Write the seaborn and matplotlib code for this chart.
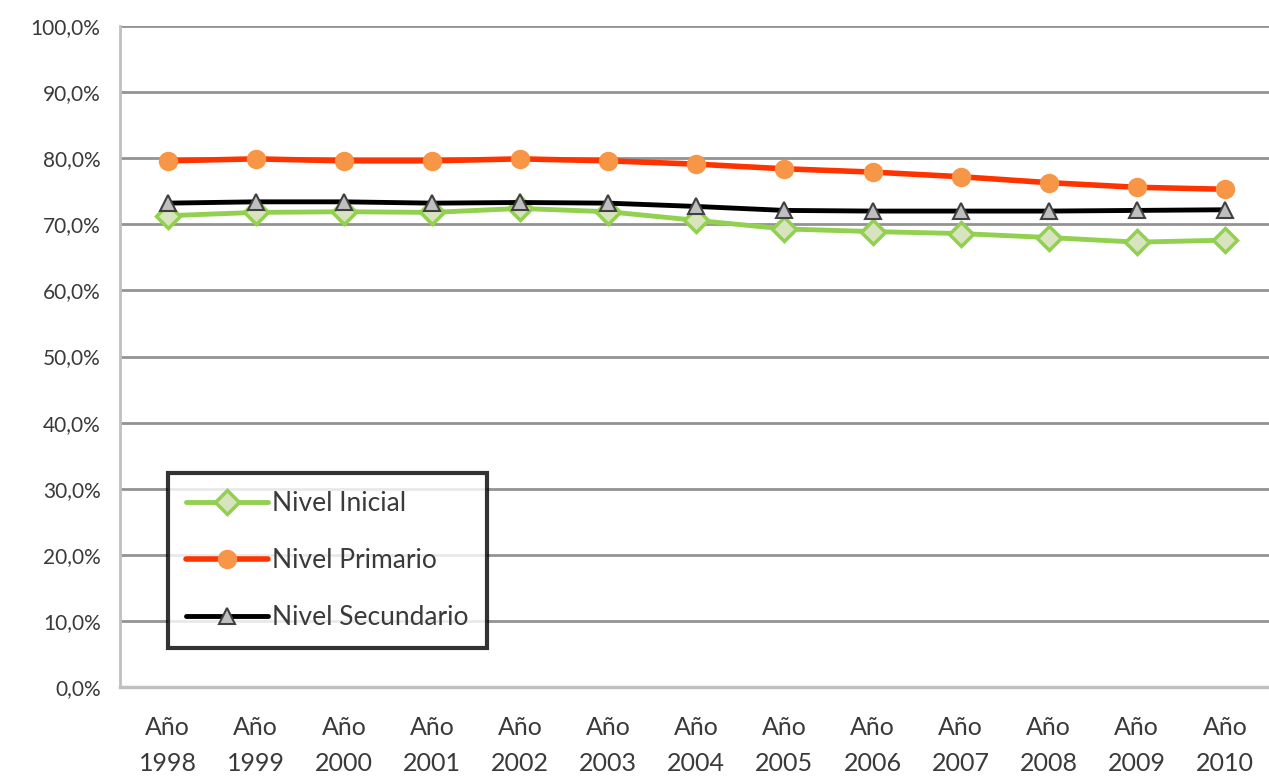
import matplotlib
matplotlib.use('Agg')
import matplotlib.pyplot as plt
import seaborn as sns
import numpy as np

years = [1998, 1999, 2000, 2001, 2002, 2003, 2004, 2005, 2006, 2007, 2008, 2009, 2010]
x_labels = [f"Año\n{y}" for y in years]

inicial = [71.3, 71.8, 71.9, 71.8, 72.4, 71.9, 70.6, 69.3, 68.9, 68.6, 68.0, 67.3, 67.6]
primario = [79.6, 79.9, 79.6, 79.6, 79.9, 79.6, 79.1, 78.4, 77.9, 77.2, 76.3, 75.6, 75.3]
secundario = [73.2, 73.4, 73.4, 73.2, 73.3, 73.2, 72.7, 72.1, 72.0, 72.0, 72.0, 72.1, 72.2]

sns.set_style("white")
plt.rcParams['font.family'] = ['Lato', 'DejaVu Sans']

fig = plt.figure(figsize=(12.69, 7.76), dpi=100)
ax = fig.add_axes([120 / 1269, 1 - 687 / 776, 1149 / 1269, 661 / 776])

xs = np.arange(len(years))

# gridlines first so the lines sit on top
ax.set_ylim(0, 100)
ax.set_yticks(np.arange(0, 101, 10))
ax.yaxis.grid(True, color="#939393", linewidth=2)
ax.set_axisbelow(True)

sns.lineplot(x=xs, y=inicial, ax=ax, color="#92D050", linewidth=3.5,
             marker="D", markersize=12, markerfacecolor="#D7E4BD",
             markeredgecolor="#92D050", markeredgewidth=2.5, label="Nivel Inicial")
sns.lineplot(x=xs, y=primario, ax=ax, color="#FF3300", linewidth=4,
             marker="o", markersize=13, markerfacecolor="#F79646",
             markeredgecolor="#F79646", markeredgewidth=1, label="Nivel Primario")
sns.lineplot(x=xs, y=secundario, ax=ax, color="#000000", linewidth=3.5,
             marker="^", markersize=12, markerfacecolor="#BFBFBF",
             markeredgecolor="#404040", markeredgewidth=1.5, label="Nivel Secundario")

ax.set_xlim(-0.541, 12.417)
ax.set_xticks(xs)
ax.set_xticklabels(x_labels, fontsize=18, color="#3a3a3a", linespacing=1.7)
ax.set_xticks(np.arange(-0.5, 12.6, 1), minor=True)
ax.tick_params(axis="x", which="major", length=0, pad=21)
ax.tick_params(axis="x", which="minor", length=8, width=2, color="#b0b0b0")

ax.set_yticklabels([f"{v:.1f}%".replace(".", ",") for v in np.arange(0, 101, 10)],
                   fontsize=15, color="#3a3a3a")
ax.tick_params(axis="y", length=7, width=2, color="#b0b0b0", pad=7)

for s in ["top", "right"]:
    ax.spines[s].set_visible(False)
ax.spines["left"].set_color("#c0c0c0")
ax.spines["left"].set_linewidth(2)
ax.spines["bottom"].set_color("#c0c0c0")
ax.spines["bottom"].set_linewidth(2.5)

leg = ax.legend(loc="upper left", bbox_to_anchor=(48 / 1149, (687 - 473) / 661),
                borderaxespad=0, fontsize=19, frameon=True, fancybox=False,
                borderpad=0.7, labelspacing=1.2, handlelength=3.1, handletextpad=0.15)
leg.get_frame().set_edgecolor("black")
leg.get_frame().set_linewidth(3)
for t in leg.get_texts():
    t.set_color("#3a3a3a")

plt.savefig("out.png", dpi=100)
plt.close()
